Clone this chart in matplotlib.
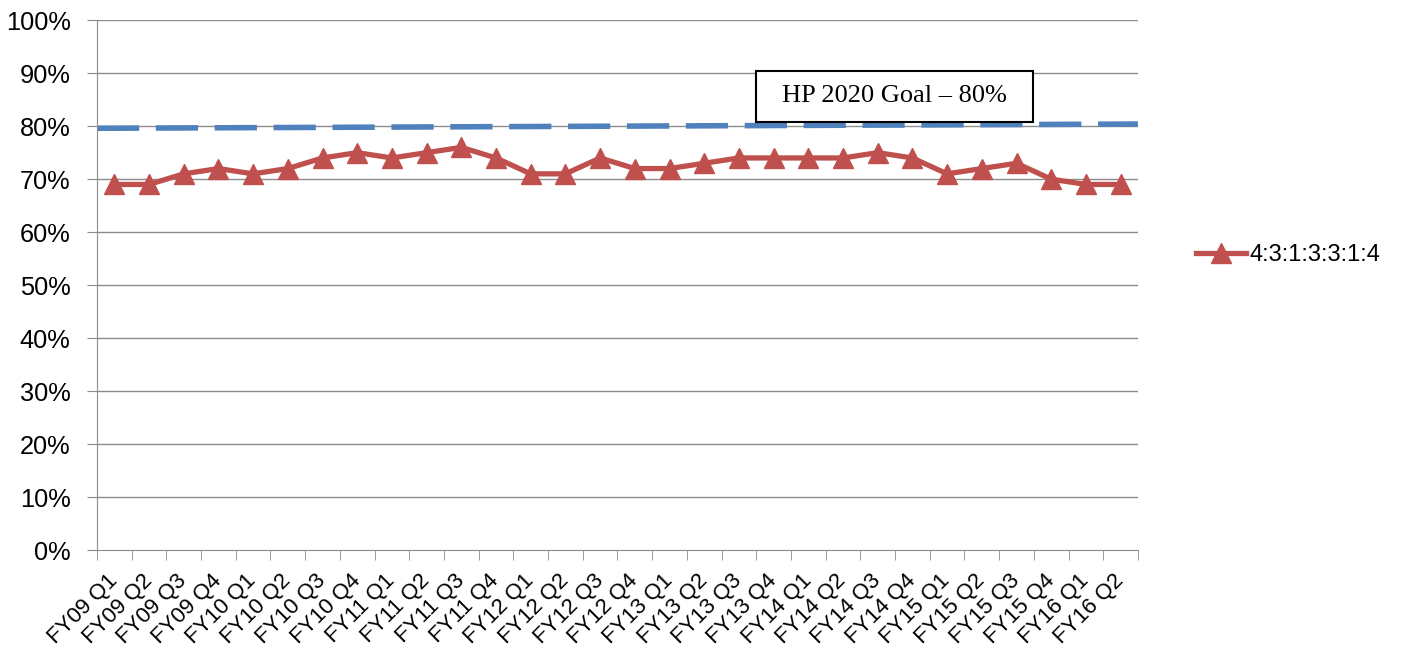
import matplotlib
matplotlib.use('Agg')
import matplotlib.pyplot as plt
from matplotlib.patches import Rectangle
from matplotlib.ticker import FixedLocator, NullFormatter

quarters = ['FY09 Q1', 'FY09 Q2', 'FY09 Q3', 'FY09 Q4',
            'FY10 Q1', 'FY10 Q2', 'FY10 Q3', 'FY10 Q4',
            'FY11 Q1', 'FY11 Q2', 'FY11 Q3', 'FY11 Q4',
            'FY12 Q1', 'FY12 Q2', 'FY12 Q3', 'FY12 Q4',
            'FY13 Q1', 'FY13 Q2', 'FY13 Q3', 'FY13 Q4',
            'FY14 Q1', 'FY14 Q2', 'FY14 Q3', 'FY14 Q4',
            'FY15 Q1', 'FY15 Q2', 'FY15 Q3', 'FY15 Q4',
            'FY16 Q1', 'FY16 Q2']
rate = [69, 69, 71, 72, 71, 72, 74, 75, 74, 75, 76, 74, 71, 71, 74,
        72, 72, 73, 74, 74, 74, 74, 75, 74, 71, 72, 73, 70, 69, 69]
goal_ends = [79.6, 80.4]
series_name = '4:3:1:3:3:1:4'
goal_text = 'HP 2020 Goal \u2013 80%'

fig = plt.figure(figsize=(14.03, 6.51), dpi=100)
ax = fig.add_axes([0.0691, 0.155, 0.7420, 0.814])

n = len(quarters)
x = list(range(n))

ax.set_xlim(-0.5, n - 0.5)
ax.set_ylim(0, 100)

for y in range(10, 101, 10):
    ax.axhline(y, color='#8c8c8c', lw=1, zorder=0)

# goal line (slightly tilted in the original)
ax.plot([-0.5, n - 0.5], goal_ends, color='#4F81BD', lw=4,
        dashes=(7.6, 3.0), zorder=2)
ax.plot(x, rate, color='#C0504D', lw=3.8, marker='^', markersize=14,
        label=series_name, zorder=3)

ax.set_yticks(range(0, 101, 10))
ax.set_yticklabels([f'{v}%' for v in range(0, 101, 10)],
                   fontsize=18.3, family='Liberation Sans')
ax.set_xticks(x)
ax.set_xticklabels(quarters, rotation=45, ha='right', va='center',
                   rotation_mode='anchor',
                   fontsize=16, family='Liberation Sans')
ax.tick_params(axis='x', length=0, pad=20)
ax.xaxis.set_minor_locator(FixedLocator([i - 0.5 for i in range(n + 1)]))
ax.xaxis.set_minor_formatter(NullFormatter())
ax.tick_params(axis='x', which='minor', length=7, color='#8c8c8c')
ax.tick_params(axis='y', length=7, color='#8c8c8c', pad=12)

for s in ['top', 'right']:
    ax.spines[s].set_visible(False)
ax.spines['left'].set_color('#8c8c8c')
ax.spines['bottom'].set_color('#8c8c8c')

# goal label box
ax.add_patch(Rectangle((0.633, 0.808), 0.266, 0.096, transform=ax.transAxes,
                       fc='white', ec='black', lw=1.5, zorder=5))
ax.text(0.766, 0.856, goal_text, transform=ax.transAxes,
        fontsize=19, family='Liberation Serif', va='center', ha='center',
        zorder=6)

fig.legend(loc='center left', bbox_to_anchor=(0.8375, 0.608), frameon=False,
           prop={'family': 'Liberation Sans', 'size': 17}, handlelength=2.1,
           handletextpad=0.15)

fig.savefig('out.png', dpi=100)
